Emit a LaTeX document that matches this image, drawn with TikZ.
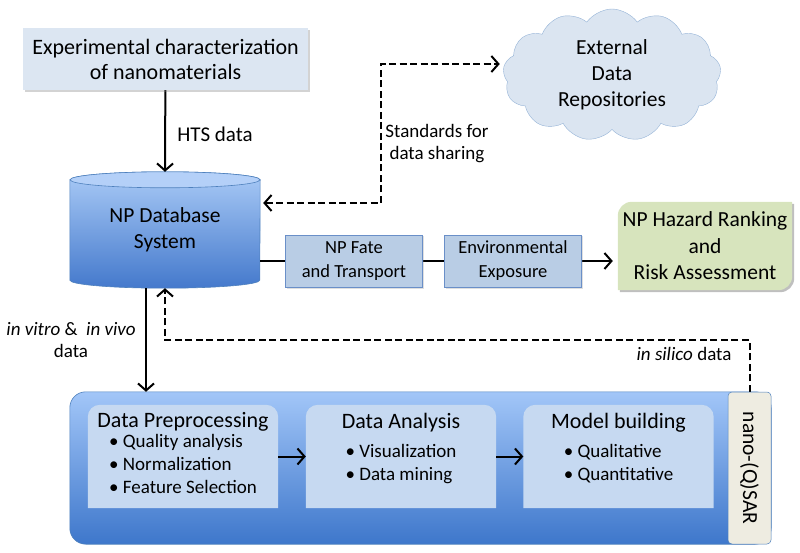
\documentclass[tikz,border=0pt]{standalone}
\usepackage{fontspec}
\setmainfont{Carlito}
\usetikzlibrary{positioning}
\usetikzlibrary{shapes.symbols}
\usetikzlibrary{arrows.meta}
\usetikzlibrary{shadows}
\pgfdeclarelayer{nodelayer}
\pgfdeclarelayer{edgelayer}
\pgfsetlayers{edgelayer,nodelayer,main}
\definecolor{expfill}{HTML}{DCE6F2}
\definecolor{dbtop}{HTML}{A9CAF6}
\definecolor{dbbot}{HTML}{4479CC}
\definecolor{dbend}{HTML}{B4D0F8}
\definecolor{dbline}{HTML}{4F81BD}
\definecolor{repofill}{HTML}{DBE5F1}
\definecolor{repoline}{HTML}{95B3D7}
\definecolor{flowfill}{HTML}{B9CDE5}
\definecolor{flowline}{HTML}{6A8FC8}
\definecolor{hazardfill}{HTML}{D7E4BD}
\definecolor{qsartop}{HTML}{A2C6F8}
\definecolor{qsarbot}{HTML}{3E77CB}
\definecolor{stripfill}{HTML}{EEECE1}
\definecolor{stagefill}{HTML}{C6D9F1}
\tikzstyle{lbl}=[inner sep=0pt, align=center, font=\fontsize{19}{22}\selectfont]
\tikzstyle{expbox}=[fill=expfill, minimum width=285pt, minimum height=62pt, align=center,
  font=\fontsize{22}{25}\selectfont, drop shadow={opacity=0.35, shadow xshift=2pt, shadow yshift=-2pt}]
\tikzstyle{dbtext}=[minimum width=190pt, minimum height=116pt, align=center, font=\fontsize{21.5}{26}\selectfont]
\tikzstyle{repo}=[cloud, cloud puffs=13, cloud puff arc=110, aspect=1.6, fill=repofill, draw=repoline,
  minimum width=218pt, minimum height=132pt, inner sep=0pt, align=center, font=\fontsize{21.5}{26}\selectfont]
\tikzstyle{flowbox}=[fill=flowfill, draw=flowline, line width=0.6pt, minimum width=137pt, minimum height=52pt,
  inner sep=0pt, align=center, font=\fontsize{18.5}{24}\selectfont, drop shadow={opacity=0.25, shadow xshift=1.5pt, shadow yshift=-1.5pt}]
\tikzstyle{hazard}=[minimum width=174pt, minimum height=88pt, inner sep=0pt, align=center, font=\fontsize{21.5}{26.5}\selectfont]
\tikzstyle{frame}=[minimum width=701pt, minimum height=152pt, inner sep=0pt]
\tikzstyle{strip}=[rotate=-90, fill=stripfill, draw=dbline, line width=0.5pt, rounded corners=4pt,
  minimum width=152pt, minimum height=43pt, inner sep=0pt, font=\fontsize{21.5}{24}\selectfont]
\tikzstyle{stage}=[minimum width=190pt, minimum height=103pt, inner sep=0pt, align=center,
  font=\fontsize{22}{22}\selectfont]
\tikzstyle{arr}=[line width=2pt, -{Straight Barb[length=7pt, width=16pt]}]
\tikzstyle{dasharr}=[line width=2pt, dash pattern=on 7pt off 3.5pt]
\newcommand{\bulletsize}{\fontsize{19}{23}\selectfont}

\begin{document}
\begin{tikzpicture}[x=1pt, y=-1pt]
	\useasboundingbox (0,0) rectangle (800,553);
	\begin{pgfonlayer}{nodelayer}
		\node [style=expbox] (0) at (165.5, 59) {Experimental characterization\\of nanomaterials};
		\node [style=lbl, font=\fontsize{21}{22}\selectfont] (1) at (215, 134) {HTS data};
		\node [style=dbtext] (2) at (165, 230) {NP Database\\System};
		\node [style=lbl] (3) at (71, 340) {\textit{in vitro} \&\ \ \textit{in vivo}\\data};
		\node [style=repo] (4) at (612, 75) {External\\Data\\Repositories};
		\node [style=lbl] (5) at (437, 144) {Standards for\\data sharing};
		\node [style=flowbox] (6) at (354, 261) {NP Fate\\and Transport};
		\node [style=flowbox] (7) at (513, 261) {Environmental\\Exposure};
		\node [style=hazard] (8) at (705, 246) {NP Hazard Ranking\\and\\Risk Assessment};
		\node [style=lbl] (10) at (684, 354) {\textit{in silico} data};
		\node [style=frame] (11) at (420.5, 468) {};
		\node [style=strip] (12) at (749.5, 468) {nano-(Q)SAR};
		\node [style=stage] (13) at (183, 456.5) {Data Preprocessing\\[-2pt]{\bulletsize\begin{tabular}[t]{@{}l@{}}%
			\textbullet~Quality analysis\\ \textbullet~Normalization\\ \textbullet~Feature Selection\end{tabular}}};
		\node [style=stage] (14) at (401, 456.5) {Data Analysis\\[7pt]{\bulletsize\begin{tabular}[t]{@{}l@{}}%
			\textbullet~Visualization\\ \textbullet~Data mining\\[12pt]\end{tabular}}};
		\node [style=stage] (15) at (618.5, 456.5) {Model building\\[7pt]{\bulletsize\begin{tabular}[t]{@{}l@{}}%
			\textbullet~Qualitative\\ \textbullet~Quantitative\\[12pt]\end{tabular}}};
		\coordinate (9) at ([shift={(3pt,27pt)}]2.east);
	\end{pgfonlayer}
	\begin{pgfonlayer}{edgelayer}
		% database cylinder
		\shade [top color=dbtop, bottom color=dbbot, draw=dbline, line width=0.6pt]
			([yshift=-8pt]2.north west) -- ([yshift=8pt]2.south west)
			arc [start angle=180, end angle=360, x radius=95pt, y radius=8pt]
			-- ([yshift=-8pt]2.north east)
			arc [start angle=0, end angle=180, x radius=95pt, y radius=8pt] -- cycle;
		\draw [fill=dbend, draw=dbline, line width=0.6pt] ([yshift=-8pt]2.north) ellipse [x radius=95pt, y radius=8pt];
		% hazard box
		\fill [black!25] ([shift={(2pt,-2pt)}]8.south west) [rounded corners=14pt] -- ([shift={(2pt,-2pt)}]8.north west) [sharp corners]
			-- ([shift={(2pt,-2pt)}]8.north east) [rounded corners=14pt] -- ([shift={(2pt,-2pt)}]8.south east) [sharp corners] -- cycle;
		\fill [hazardfill] (8.south west) [rounded corners=14pt] -- (8.north west) [sharp corners]
			-- (8.north east) [rounded corners=14pt] -- (8.south east) [sharp corners] -- cycle;
		% (Q)SAR frame
		\shade [top color=qsartop, bottom color=qsarbot, draw=dbline, line width=0.6pt, rounded corners=16pt]
			(11.south west) rectangle (11.north east);
		\foreach \n in {13,14,15}
			\fill [stagefill] (\n.south west) [rounded corners=12pt] -- (\n.north west) -- (\n.north east) [sharp corners] -- (\n.south east) -- cycle;
		% connectors
		\draw [style=arr] (0) -- (2.north);
		\draw [style=dasharr, {Straight Barb[length=7pt, width=16pt]}-{Straight Barb[length=7pt, width=16pt]}, shorten >=4pt]
			(9) -| ([shift={(-123pt,11pt)}]4.west) -- ([yshift=11pt]4.west);
		\draw [line width=2pt] (6.west -| 2.east) -- (6.west);
		\draw [line width=2pt] (6) -- (7);
		\draw [style=arr, shorten >=5pt] (7.east) -- (7.east -| 8.west);
		\draw [style=arr] ([xshift=-19pt]2.south) -- ([xshift=-19pt]2.south |- 11.north);
		\draw [style=dasharr, -{Straight Barb[length=7pt, width=16pt]}] (12.west) |- ([yshift=-52pt]2.south) -- (2.south);
		\draw [style=arr] (13) -- (14);
		\draw [style=arr] (14) -- (15);
	\end{pgfonlayer}
\end{tikzpicture}
\end{document}
